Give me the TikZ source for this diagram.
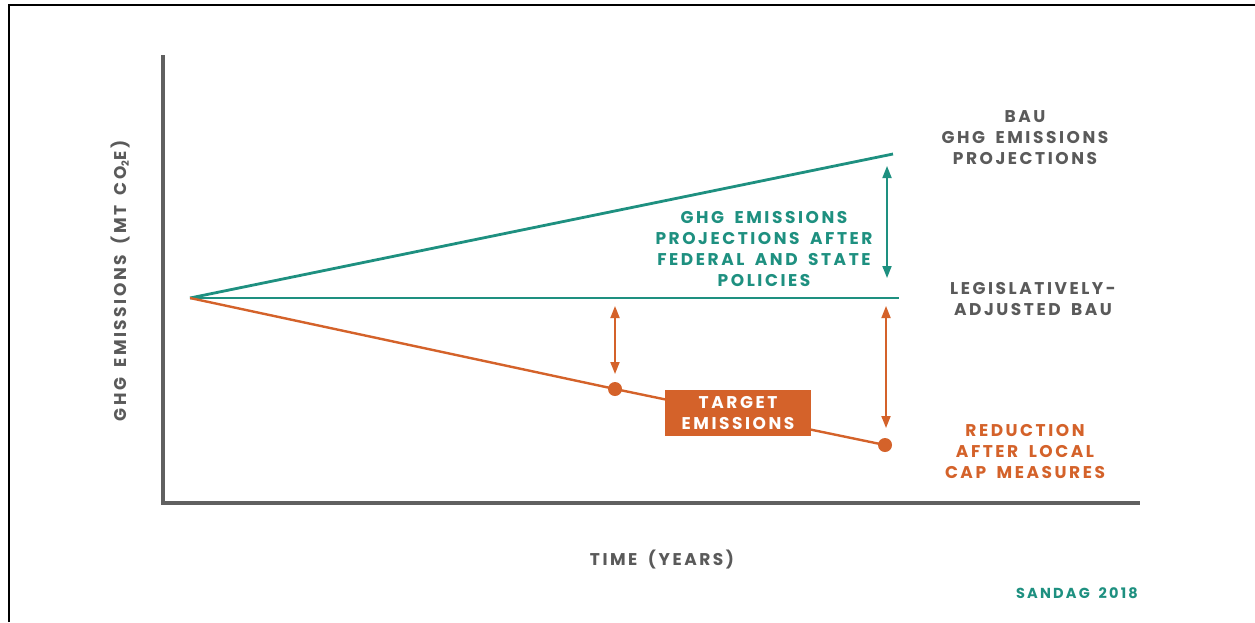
\documentclass[tikz,border=0pt]{standalone}
\usepackage{fontspec}
\setmainfont{Poppins}
\newfontfamily\lab[LetterSpace=15,WordSpace=1.7]{Poppins}
\usetikzlibrary{arrows.meta}
\definecolor{myteal}{HTML}{1E9080}
\definecolor{myorange}{HTML}{D4622A}
\definecolor{mygray}{HTML}{5A5A5A}
\definecolor{axisgray}{HTML}{606060}
\begin{document}
\begin{tikzpicture}[x=1pt,y=-1pt,
  lbl/.style={font=\lab\bfseries\fontsize{17}{21}\selectfont, align=center, inner sep=0pt},
  axis/.style={draw=axisgray, line width=4pt},
  tealline/.style={draw=myteal, line width=2.8pt},
  orline/.style={draw=myorange, line width=2.4pt},
  dbl/.style={line width=1.8pt, {Triangle[length=12pt,width=9pt]}-{Triangle[length=12pt,width=9pt]}},
  dot/.style={circle, fill=myorange, minimum size=14pt, inner sep=0pt}]
\useasboundingbox (0,0) rectangle (1255,622);
\fill[white] (0,0) rectangle (1255,622);
% frame
\draw[black, line width=2.5pt] (9,622) -- (9,5) -- (1255,5);
% axes
\coordinate (ytop) at (163,55);
\coordinate (orig) at (163,503);
\coordinate (xend) at (1140,503);
\draw[axis] (ytop) -- (orig) -- (xend);
% lines
\coordinate (O) at (190,298);
\coordinate (bau) at (893,154);
\coordinate (leg) at (899,298);
\node[dot] (d1) at (615,389) {};
\node[dot] (d2) at (885,445) {};
\draw[tealline] (O) -- (bau);
\draw[tealline] (O) -- (leg);
\draw[orline] (O) -- (d1.center) -- (d2.center);
% arrows
\coordinate (ta) at (887,166);
\coordinate (tb) at (887,278);
\draw[dbl, myteal] (ta) -- (tb);
\coordinate (oa1) at (615,306);
\coordinate (ob1) at (615,374);
\draw[dbl, myorange] (oa1) -- (ob1);
\coordinate (oa2) at (886,306);
\coordinate (ob2) at (886,428);
\draw[dbl, myorange] (oa2) -- (ob2);
% target box
\node[lbl, fill=myorange, text=white, minimum width=146pt, minimum height=46pt] (target) at (738,413) {TARGET\\EMISSIONS};
% labels
\node[lbl, text=myteal] (fed) at (764,249) {GHG EMISSIONS\\PROJECTIONS AFTER\\FEDERAL AND STATE\\POLICIES};
\node[lbl, text=mygray] (baulbl) at (1025,138) {BAU\\GHG EMISSIONS\\PROJECTIONS};
\node[lbl, text=mygray] (leglbl) at (1033,299) {LEGISLATIVELY-\\ADJUSTED BAU};
\node[lbl, text=myorange] (red) at (1025,451) {REDUCTION\\AFTER LOCAL\\CAP MEASURES};
\node[lbl, text=mygray] (xlbl) at (662,560) {TIME (YEARS)};
\node[lbl, text=mygray, rotate=90] (ylbl) at (121,281) {GHG EMISSIONS (MT CO{\fontsize{10}{10}\selectfont\raisebox{-2pt}{2}}E)};
\node[lbl, text=myteal, font=\lab\bfseries\fontsize{14.5}{16}\selectfont] (src) at (1077,593) {SANDAG 2018};
\end{tikzpicture}
\end{document}
